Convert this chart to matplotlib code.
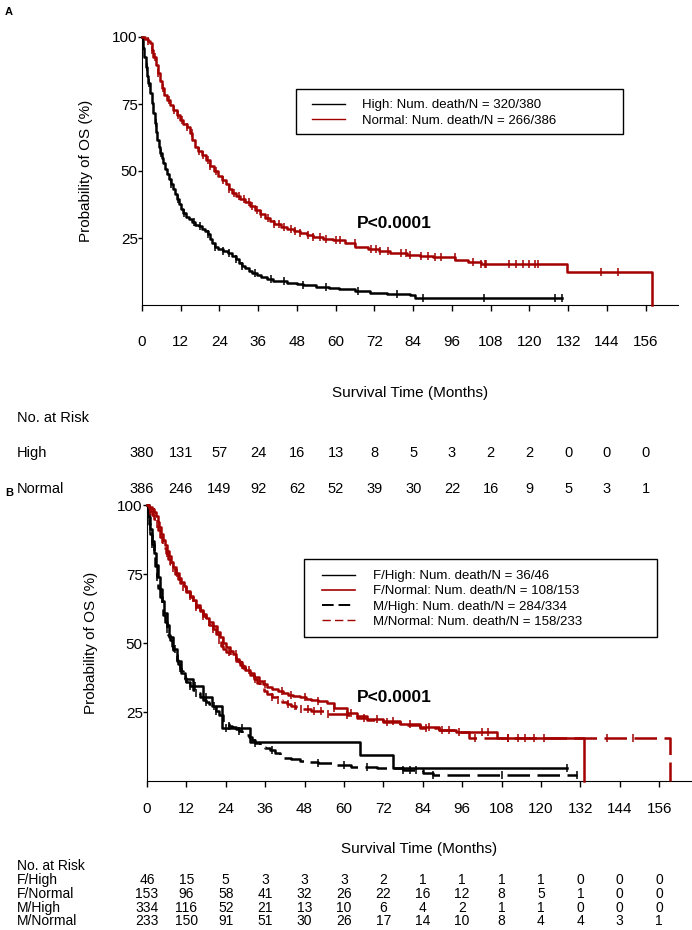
import matplotlib
matplotlib.use('Agg')
import matplotlib.pyplot as plt
from matplotlib.lines import Line2D
from matplotlib.patches import Rectangle
from matplotlib.transforms import blended_transform_factory
from matplotlib import font_manager
import numpy as np

names = {f.name for f in font_manager.fontManager.ttflist}
narrow = 'Liberation Sans Narrow' if 'Liberation Sans Narrow' in names else 'Liberation Sans'
plt.rcParams['font.family'] = ['Liberation Sans', 'DejaVu Sans']

RED = '#a30000'
months = [0, 12, 24, 36, 48, 60, 72, 84, 96, 108, 120, 132, 144, 156]

# ---- panel A: survival steps (months, %) ----
a_high_t = [0, 0.3, 0.6, 1.2, 1.6, 2, 2.5, 3, 3.5, 4, 4.4, 4.7, 5.2, 5.6, 6.1, 6.6, 7.2, 7.8, 8.4, 9,
            9.6, 10.2, 10.8, 11.4, 12, 12.7, 13.5, 14.5, 15.5, 16.5, 17.5, 18.5, 19.5, 20.5, 21.2,
            21.8, 22.5, 23.5, 25, 26.5, 28, 29, 30, 31, 32, 33, 34, 35.5, 37, 38.6, 40.5, 42, 45,
            48, 50, 54, 58, 61, 66, 70.5, 76, 83, 84.5]
a_high_s = [100, 96, 92.6, 88.9, 85.5, 82.7, 79, 75.3, 71.5, 67.8, 64.5, 61.6, 59, 56.6, 54.8, 52.9,
            50.8, 49, 47, 45, 43.3, 41.5, 39.5, 37.8, 36, 34.3, 33, 32, 31, 30, 29.3, 28.5, 27.6, 26.5,
            24.8, 23, 21.7, 21, 20.3, 19.4, 18.2, 17.2, 15.8, 14.7, 13.8, 12.8, 12, 11.2, 10.4, 9.6,
            9.1, 8.8, 8.2, 7.8, 7.5, 6.7, 6.3, 6.0, 5.3, 4.5, 4.0, 3.7, 2.6]
a_high_end = 130.2
a_high_cens = [1.5, 2.3, 4.2, 6, 9, 11, 13, 16, 18, 20.5, 22.5, 25, 27, 29, 31, 35, 40, 44, 50, 57,
               67, 79, 87, 106, 127.8, 130.2]

a_norm_t = [0, 1, 1.8, 2.5, 3, 3.5, 4.2, 5, 5.6, 6.1, 6.8, 7.6, 8.6, 9.7, 10.8, 11.8, 12.8, 13.8,
            14.8, 15.6, 16.4, 17.4, 18.5, 19.7, 21, 22.3, 23.5, 24.7, 26, 27, 28, 29.2, 30.5, 32,
            33.5, 35, 36.5, 38, 39.5, 41, 43, 45, 47, 49, 51, 53, 56, 59, 63, 66, 70, 73.5, 76.7,
            82, 86, 90, 97, 101, 105, 131.7, 158]
a_norm_s = [100, 99.3, 98.6, 97.6, 95, 92.6, 89.5, 86.4, 83.5, 80.8, 78.5, 76.5, 74.6, 72.8, 71, 69,
            67.7, 66.5, 64, 61.5, 59, 57.5, 56, 54, 52, 50, 48.3, 46.6, 45, 43.3, 41.7, 40.5, 39.5,
            38.3, 37, 35.5, 34, 32.6, 31.4, 30.3, 29.2, 28.3, 27.6, 27, 26, 25.4, 24.8, 24.2, 23,
            21.7, 20.8, 20, 19.4, 18.8, 18.4, 18, 16.8, 16, 15.3, 12.3, 0]
a_norm_end = 158
a_norm_cens = [2, 3, 4, 5, 6.5, 8.5, 10, 11, 12.5, 14, 15.5, 17.5, 19, 20.5, 21, 23, 25, 27, 28.5, 30,
               31.5, 33, 34, 35.5, 37, 39, 41, 42.5, 44, 46, 47.5, 49, 51.4, 53, 55, 57, 60.2, 61.2,
               65.9, 71, 72.6, 73.6, 76.2, 80.3, 81.9, 82.9, 86.5, 88.6, 90.6, 92.7, 96.8, 102.5,
               105.1, 106.1, 106.6, 113.8, 115.9, 117.9, 120, 121.6, 122.6, 142.2, 147.3]

a_groups = ['High', 'Normal']
a_labels = ['High: Num. death/N = 320/380', 'Normal: Num. death/N = 266/386']
a_risk = [[380, 131, 57, 24, 16, 13, 8, 5, 3, 2, 2, 0, 0, 0],
          [386, 246, 149, 92, 62, 52, 39, 30, 22, 16, 9, 5, 3, 1]]

# ---- panel B ----
b_fh_t = [0, 0.5, 1, 1.5, 2.2, 2.8, 3.3, 4, 4.6, 5.2, 6, 6.8, 7.8, 9, 10.5, 11.5, 14, 17, 19.7,
          22.8, 31.4, 65, 75]
b_fh_s = [100, 95.7, 91.3, 87, 82.6, 78.3, 73.9, 69.6, 65.2, 60.9, 56.5, 52.2, 47.8, 43.5, 39.1,
          36.8, 34.5, 30.5, 27, 19.2, 14.1, 9.4, 4.7]
b_fh_end = 128
b_fh_cens = [1, 8.5, 12, 14.5, 18, 20.5, 24, 29, 128]

b_fn_t = [0, 0.7, 1.5, 2, 2.6, 3.2, 3.7, 4.2, 4.8, 5.4, 6, 6.6, 7.2, 8, 8.8, 9.6, 10.4, 11.2, 12, 13,
          14, 15, 16, 17, 18, 19, 20, 21.3, 22.2, 23, 24, 25.2, 26.3, 27.2, 28, 29, 30, 31.4, 32.5,
          34, 35.3, 36.5, 38, 40, 41.5, 43, 44.5, 46.6, 48.5, 50, 52, 54.7, 57, 60.8, 64, 67, 72,
          77, 83, 89, 94, 106.5, 133]
b_fn_s = [100, 99.3, 98.6, 97.5, 96, 94, 92, 89.5, 87.5, 85.5, 83.5, 81.5, 79.5, 77.5, 75.5, 73.5,
          72, 70.5, 69, 67.2, 65.5, 63.8, 62, 60.5, 59, 57.5, 56, 54, 52, 50, 48.5, 47.2, 46, 44.3,
          43, 41.5, 40.3, 39, 37.8, 36.3, 35, 34, 33.3, 32.6, 32, 31.3, 30.8, 30.4, 29.8, 29.3, 28.9,
          28.4, 26.6, 24.5, 23.4, 22.6, 21.8, 20.8, 19.6, 18.5, 17.8, 15.6, 0]
b_fn_end = 133
b_fn_cens = [2, 5, 9, 13, 15, 19, 23, 27, 31, 36, 41, 44, 48, 52, 57, 62, 70, 75, 80, 86, 92, 95,
             102, 104, 110, 113, 118, 121]

b_mh_t = [0, 0.3, 0.6, 1, 1.5, 2, 2.5, 3, 3.5, 4, 4.5, 5, 5.5, 6, 6.5, 7, 7.5, 8, 8.5, 9, 9.5, 10,
          10.5, 11, 11.5, 12, 13, 14, 15, 16, 17, 18, 19, 20, 21, 22, 23, 24, 25, 26, 27, 28, 29,
          30, 31, 32, 33, 34.4, 36, 37.5, 39, 40.5, 41.5, 44, 46.6, 49, 52, 56.7, 62, 70, 78, 84, 87]
b_mh_s = [100, 96, 93, 89.5, 86, 82, 78, 74, 70, 66.5, 63, 60, 57.5, 55, 53, 51, 49, 47.5, 45.8, 44,
          42.5, 41, 39.8, 38.5, 37.2, 36, 34.5, 33, 31.8, 30.6, 29.5, 28.5, 27.8, 27, 25.5, 24, 21.5,
          20.5, 20, 19.5, 18.7, 18, 17.5, 16.8, 16, 15, 13.6, 12.3, 11.8, 11.2, 10.3, 9, 8.3, 7.8,
          7.2, 6.8, 6.5, 5.8, 5.1, 4.6, 4.0, 3.0, 2.2]
b_mh_end = 131
b_mh_cens = [1.5, 3, 6, 10, 13, 15, 18, 21, 25, 28, 33, 38, 52, 60, 67, 78, 80, 82, 87, 108, 131]

b_mn_t = [0, 0.5, 1, 1.6, 2.2, 2.8, 3.4, 4, 4.6, 5.2, 5.8, 6.4, 7, 7.7, 8.5, 9.3, 10.2, 11, 12, 13,
          14, 15, 16, 17, 18, 19, 20, 21, 21.8, 22.5, 23.3, 24.2, 25.2, 26.3, 27.2, 28.2, 29.3, 30.4,
          31.4, 32.5, 33.5, 34.5, 35.5, 36.5, 38, 39.5, 41, 42.5, 44, 45.5, 47, 50, 54.7, 60.8, 64,
          67, 72, 77, 83, 89, 94, 98, 159.4]
b_mn_s = [100, 99, 98, 96.5, 95, 93, 91, 88.5, 86.5, 84.5, 82.5, 80.5, 78.8, 77, 75, 73.3, 71.6,
          70.2, 68.5, 66.7, 65, 63.2, 61.5, 59.8, 58, 56.5, 55, 53.3, 51, 49, 47.8, 46.8, 45.8, 45,
          43.5, 42, 40.8, 39.5, 38.5, 37, 35.5, 34, 32.7, 31.5, 30.5, 29.5, 28.5, 27.8, 27, 26.6,
          26.2, 25.3, 24.3, 24, 23, 22.2, 21.2, 20.4, 19.3, 18.5, 17.6, 15.6, 0]
b_mn_end = 159.4
b_mn_cens = [1, 3, 6, 8, 11, 15, 17, 20, 22, 25, 29, 33, 38, 40, 43, 45, 47, 49, 51, 53, 55, 61,
             66, 73, 85, 90, 100, 110, 115, 140, 148]

b_groups = ['F/High', 'F/Normal', 'M/High', 'M/Normal']
b_labels = ['F/High: Num. death/N = 36/46', 'F/Normal: Num. death/N = 108/153',
            'M/High: Num. death/N = 284/334', 'M/Normal: Num. death/N = 158/233']
b_risk = [[46, 15, 5, 3, 3, 3, 2, 1, 1, 1, 1, 0, 0, 0],
          [153, 96, 58, 41, 32, 26, 22, 16, 12, 8, 5, 1, 0, 0],
          [334, 116, 52, 21, 13, 10, 6, 4, 2, 1, 1, 0, 0, 0],
          [233, 150, 91, 51, 30, 26, 17, 14, 10, 8, 4, 4, 3, 1]]

DASH = (0, (9, 3))
W, H = 692, 930


def km(ax, t, s, end, color, ls, cens):
    tt = list(t) + [end]
    ss = list(s) + [s[-1]]
    ax.step(tt, ss, where='post', color=color, lw=1.8, ls=ls, clip_on=False, zorder=3)
    cy = [s[np.searchsorted(t, c, side='right') - 1] for c in cens]
    ax.plot(cens, cy, ls='none', marker='|', ms=6, mew=1.1, color=color, clip_on=False, zorder=4)


def style_axes(ax, pad):
    ax.set_xlim(0, 166)
    ax.set_ylim(0, 100)
    ax.spines['top'].set_visible(False)
    ax.spines['right'].set_visible(False)
    ax.set_xticks(months)
    ax.set_yticks([25, 50, 75, 100])
    ax.tick_params(axis='x', length=4, width=1, pad=pad, labelsize=11)
    ax.tick_params(axis='y', length=3, width=1, pad=0, labelsize=11)
    ax.set_ylabel('Probability of OS (%)', fontsize=11, labelpad=14)


def legend_box(handles, labels, box, first_row, handle_x, textpad, spacing):
    x0, y0, x1, y1 = box
    fig.patches.append(Rectangle((x0 / W, 1 - y1 / H), (x1 - x0) / W, (y1 - y0) / H,
                                 transform=fig.transFigure, fill=False, ec='black', lw=1))
    fig.legend(handles, labels, loc='upper left', bbox_to_anchor=(handle_x / W, 1 - (first_row - 5) / H),
               fontsize=9.5, frameon=False, handlelength=2.5, handletextpad=textpad,
               labelspacing=spacing, borderpad=0, borderaxespad=0)


fig = plt.figure(figsize=(6.92, 9.30), dpi=100)

# ---------------- panel A ----------------
axA = fig.add_axes([142 / W, 1 - 305 / H, 536 / W, 268 / H])
km(axA, a_high_t, a_high_s, a_high_end, 'black', '-', a_high_cens)
km(axA, a_norm_t, a_norm_s, a_norm_end, RED, '-', a_norm_cens)
style_axes(axA, 17.5)
fig.text(5 / W, 1 - 12 / H, 'A', fontsize=8, fontweight='bold', va='center')
fig.text(410 / W, 1 - 393 / H, 'Survival Time (Months)', fontsize=11, ha='center', va='center',
         family=narrow)
fig.text(394 / W, 1 - 223 / H, 'P<0.0001', fontsize=12.5, fontweight='bold', ha='center', va='center')
hA = [Line2D([], [], color='black', lw=1), Line2D([], [], color=RED, lw=1)]
legend_box(hA, a_labels, (296, 89, 623, 134), 104, 312, 1.3, 0.27)
trA = blended_transform_factory(axA.transData, fig.transFigure)
fig.text(17 / W, 1 - 418 / H, 'No. at Risk', fontsize=10.5, va='center', family=narrow)
for i, g in enumerate(a_groups):
    yy = 1 - [453, 489][i] / H
    fig.text(17 / W, yy, g, fontsize=10.5, va='center', family=narrow)
    for m, n in zip(months, a_risk[i]):
        axA.text(m, yy, str(n), transform=trA, fontsize=10.5, ha='center', va='center', family=narrow)

# ---------------- panel B ----------------
axB = fig.add_axes([147 / W, 1 - 781 / H, 545 / W, 276 / H])
km(axB, b_fh_t, b_fh_s, b_fh_end, 'black', '-', b_fh_cens)
km(axB, b_mh_t, b_mh_s, b_mh_end, 'black', DASH, b_mh_cens)
km(axB, b_fn_t, b_fn_s, b_fn_end, RED, '-', b_fn_cens)
km(axB, b_mn_t, b_mn_s, b_mn_end, RED, DASH, b_mn_cens)
style_axes(axB, 11)
fig.text(5 / W, 1 - 493 / H, 'B', fontsize=8, fontweight='bold', va='center')
fig.text(419 / W, 1 - 849 / H, 'Survival Time (Months)', fontsize=11, ha='center', va='center',
         family=narrow)
fig.text(394 / W, 1 - 698 / H, 'P<0.0001', fontsize=12.5, fontweight='bold', ha='center', va='center')
hB = [Line2D([], [], color='black', lw=1),
      Line2D([], [], color=RED, lw=1.2),
      Line2D([], [], color='black', lw=1.4, ls=(0, (6, 2.5))),
      Line2D([], [], color=RED, lw=1, ls=(0, (6, 3)))]
legend_box(hB, b_labels, (304, 559, 657, 637), 575, 322, 1.4, 0.22)
trB = blended_transform_factory(axB.transData, fig.transFigure)
fig.text(17 / W, 1 - 866 / H, 'No. at Risk', fontsize=10, va='center', family=narrow)
for i, g in enumerate(b_groups):
    yy = 1 - [880, 894, 908, 921][i] / H
    fig.text(17 / W, yy, g, fontsize=10, va='center', family=narrow)
    for m, n in zip(months, b_risk[i]):
        axB.text(m, yy, str(n), transform=trB, fontsize=10, ha='center', va='center', family=narrow)

fig.savefig('out.png', dpi=100)
